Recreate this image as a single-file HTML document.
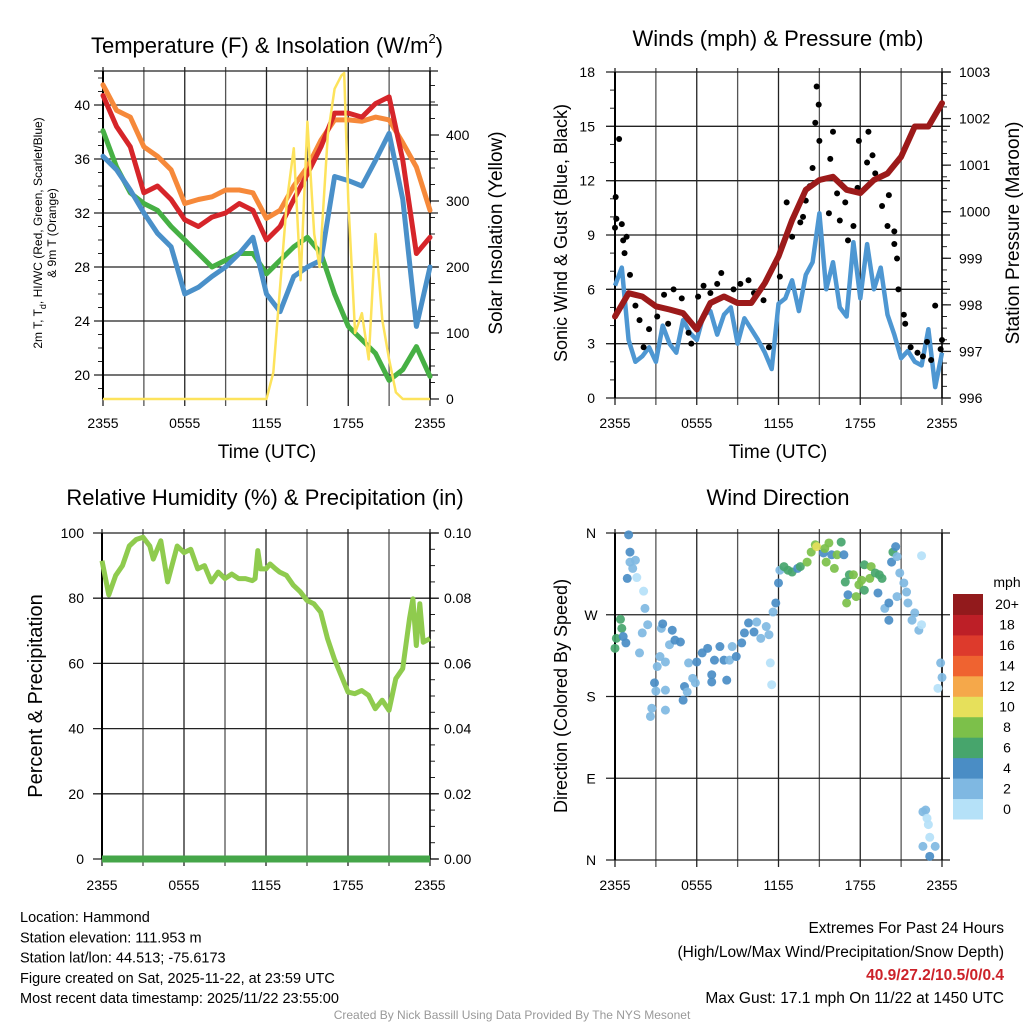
<!DOCTYPE html>
<html><head><meta charset="utf-8">
<style>
html,body{margin:0;padding:0;background:#fff;}
svg{display:block;font-family:"Liberation Sans",sans-serif;}
</style></head>
<body>
<svg id="fig" width="1024" height="1024" viewBox="0 0 1024 1024"></svg>
<script>
// ---------- DATA ----------
const timeTickLabels = ["2355","0555","1155","1755","2355"];
const tempHours = [0,1,2,3,4,5,6,7,8,9,10,11,12,13,14,15,16,17,18,19,20,21,22,23,24];
const temp9m = [41.5,39.6,39.1,36.9,36.2,35.2,32.7,33,33.2,33.7,33.7,33.5,31.6,32.2,34,35.4,37.4,38.9,38.9,38.8,39.1,38.9,37.2,35.4,32.2];
const temp2m = [40.7,38.4,36.9,33.5,34,33,31.5,31,31.7,32,32.7,32.2,30,31,33,34.9,36.9,39.4,39.4,39.1,40.1,40.6,35.9,29,30.2];
const dewpt = [38.1,35.4,33.5,32.7,32.2,31,30,29,28,28.5,29,29,27.5,28.5,29.5,30.2,29,26,23.6,22.6,21.6,19.6,20.4,22.1,19.9];
const windChill = [36.2,35.2,33.7,32,30.5,29.5,26,26.5,27.3,28,29,30.2,26,24.7,27.3,28,28.5,34.7,34.4,34,35.9,37.9,33,23.6,28];
const solarHours = [0,11.5,12,12.5,13,13.5,14,14.5,15,15.5,15.9,16.5,17,17.5,17.7,18,18.5,19,19.5,20,20.5,21,21.5,22,24];
const solar = [0,0,0,40,170,300,380,180,420,250,200,400,470,490,494,300,100,130,60,250,120,60,10,0,0];
const tempTicks = [20,24,28,32,36,40];
const solarTicks = [0,100,200,300,400];

const windHours = [0,0.5,1,1.5,2,2.5,3,3.5,4,4.5,5,5.5,6,6.5,7,7.5,8,8.5,9,9.5,10,10.5,11,11.5,12,12.5,13,13.5,14,14.5,15,15.5,16,16.5,17,17.5,18,18.5,19,19.5,20,20.5,21,21.5,22,22.5,23,23.5,24];
const windSpeed = [6.2,7.2,3.2,2.0,2.3,2.8,2.0,4.0,3.0,2.5,4.3,3.6,3.2,4.6,4.8,3.5,4.6,5.0,3.0,4.4,3.8,3.2,2.5,1.6,5.2,5.5,6.5,4.8,6.8,7.5,10.2,6.0,7.5,5.0,4.5,8.6,5.5,8.5,6.0,7.2,4.6,3.5,2.2,2.6,2.0,1.8,3.8,0.6,2.5];
const gustHours = [0,0.05,0.3,0.1,0.5,0.6,0.85,0.7,1.1,1.5,1.8,2.1,2.5,3.1,3.6,3.9,4.3,4.9,5.4,5.6,6.1,6.5,7.0,7.5,7.8,8.7,9.2,9.8,10.2,10.9,11.3,11.8,12.1,12.6,13.0,13.6,13.8,14.0,14.3,14.5,14.7,14.8,14.95,15.0,15.7,16.0,15.8,16.3,16.5,16.9,17.1,17.5,17.8,17.9,18.5,18.6,18.9,19.1,19.6,20.0,20.1,20.5,20.5,20.7,20.8,21.2,21.3,21.7,22.2,22.6,22.9,23.2,23.5,23.9,24.0];
const gustValues = [9.4,11.1,14.3,9.9,9.6,8.7,8.9,8.0,6.8,5.1,4.3,2.8,3.8,4.5,5.7,4.1,6.0,5.5,3.6,3.0,5.6,6.2,5.8,6.3,6.9,6.0,6.3,6.5,5.8,5.4,2.8,7.5,6.7,10.8,8.9,9.7,10.0,10.9,11.7,12.7,15.2,17.2,16.2,14.2,10.2,14.7,13.2,11.3,9.8,10.8,8.7,9.5,11.6,14.2,13.0,14.7,13.4,12.4,10.6,9.5,11.2,8.5,9.2,7.7,6.0,4.6,4.1,2.8,2.5,2.3,3.1,2.1,5.1,2.7,3.2];
const presHours = tempHours;
const pressure = [997.75,998.25,998.18,997.97,997.9,997.82,997.47,998.04,998.18,998.04,998.04,998.47,999.04,999.82,1000.47,1000.68,1000.75,1000.47,1000.4,1000.68,1000.82,1001.18,1001.83,1001.83,1002.33];
const windTicks = [0,3,6,9,12,15,18];
const presTicks = [996,997,998,999,1000,1001,1002,1003];

const rhHours = [0,0.5,1,1.5,2,2.5,3,3.5,3.75,4.3,4.8,5.5,6,6.5,7,7.5,8,8.5,9,9.5,10,10.5,11,11.2,11.4,11.6,12,12.3,12.7,13,13.5,14,14.5,15,15.5,16,16.5,17,17.5,18,18.5,19,19.5,20,20.5,21,21.5,22,22.5,22.75,23,23.25,23.5,24];
const rh = [91.5,81,87,90,96,98,98.7,96,92,97.6,85,96,94,95,89,90,85,88,86,87.4,86,86,85.4,86,94.6,89,89,90.5,89,88,87,84,82,79.3,78.3,75.7,67.6,61.4,56.3,51.2,50.7,51.7,50.2,46.1,48.7,45.6,55.3,58.4,73.7,79.8,65.5,78.3,66.5,67.6];
const precip = [0,0];
const rhTicks = [0,20,40,60,80,100];
const precipTickLabels = ["0.00","0.02","0.04","0.06","0.08","0.10"];

const dirHours = [0,0.1,0.4,0.5,0.6,0.8,0.9,1.0,1.1,1.1,1.3,1.5,1.6,1.8,2.0,2.1,2.2,2.4,2.6,2.7,2.9,3.0,3.1,3.3,3.4,3.5,3.7,3.7,3.7,4.0,4.2,4.4,4.8,5.0,5.1,5.3,5.4,5.7,5.9,6.0,6.4,6.8,7.1,7.1,7.3,7.7,8.0,8.2,8.4,8.6,8.9,9.3,9.5,9.8,10.2,10.4,10.7,11.1,11.3,11.4,11.5,11.6,11.8,12.0,12.1,12.4,12.7,13.0,13.4,13.6,14.1,14.4,14.7,14.8,15.3,15.4,15.7,15.5,15.9,16.1,16.3,16.6,16.8,16.9,17.0,17.1,17.2,17.5,17.7,17.9,18.1,18.3,18.3,18.7,18.8,19.1,19.3,19.4,19.6,19.8,20.1,20.1,20.3,20.4,20.6,20.7,20.9,20.7,21.2,21.4,21.5,21.8,22.0,22.3,22.5,22.5,22.6,22.8,22.9,23.0,23.1,22.6,23.1,23.5,23.7,23.9,24.0];
const dirDeg = [233,244,265,255,246,239,310,358,339,328,321,330,311,228,250,296,277,259,158,167,195,186,213,224,255,260,218,187,165,237,253,242,240,176,191,185,217,200,195,218,228,233,204,196,220,235,220,198,220,235,224,239,250,261,251,262,244,257,248,217,193,273,283,305,319,323,319,317,321,323,328,339,347,345,338,343,349,328,336,321,336,350,336,306,283,292,314,314,290,303,308,297,325,310,323,316,294,314,310,277,283,264,328,339,345,334,316,290,305,295,283,264,272,253,259,335,53,55,46,39,25,15,4,15,189,217,201];
const dirSpeed = [7,7,7,7,5,5,5,5,5,3,3,3,1,3,3,1,3,3,3,3,5,3,3,3,3,5,3,3,3,3,5,5,5,5,5,3,3,3,3,5,5,5,5,5,5,5,5,5,3,3,5,5,5,5,5,3,3,3,3,1,1,3,5,5,3,7,7,7,5,7,9,9,9,10.5,5,9,9,9,5,9,9,7,5,7,9,5,7,9,9,9,9,7,7,9,9,7,5,7,7,3,5,5,5,7,5,3,3,3,3,3,3,3,3,3,1,1,3,3,1,1,1,3,5,3,1,3,3];
const dirLabels = ["N","W","S","E","N"];
const speedLevels = ["0","2","4","6","8","10","12","14","16","18","20+"];
const speedColors = ["#b5e1f8","#7fb8e2","#4a8dc5","#47a56c","#7cc04a","#e6e05b","#f5a84a","#ef6330","#dd3a2c","#bd1f27","#921a1c"];

// ---------- HELPERS ----------
const NS="http://www.w3.org/2000/svg";
const svg=document.getElementById('fig');
function mk(tag,attrs,parent){const e=document.createElementNS(NS,tag);for(const k in attrs)e.setAttribute(k,attrs[k]);(parent||svg).appendChild(e);return e;}
function txt(s,x,y,size,anchor,parent,extra){const t=mk('text',Object.assign({x:x,y:y,'font-size':size,'text-anchor':anchor||'middle',fill:'#000'},extra||{}),parent);t.textContent=s;return t;}
function tsp(t,s,attrs){const e=mk('tspan',attrs||{},t);e.textContent=s;return e;}
function lin(d0,d1,r0,r1){return v=>r0+(v-d0)/(d1-d0)*(r1-r0);}
function pathFrom(xsArr,ysArr,xf,yf){return xsArr.map((h,i)=>(i?'L':'M')+xf(h).toFixed(1)+','+yf(ysArr[i]).toFixed(1)).join('');}

function frame(g,L,R,T,B,hGrid,vGridN,leftTicks,rightTicks,minorRight){
  for(let i=0;i<=vGridN;i++){const x=L+(R-L)*i/vGridN;mk('line',{x1:x,y1:T-4,x2:x,y2:B+7,stroke:i%2?'#555':'#222','stroke-width':1.3},g);}
  hGrid.forEach(y=>mk('line',{x1:L-9,y1:y,x2:R+8,y2:y,stroke:'#222','stroke-width':1.3},g));
  (minorRight||[]).forEach(y=>mk('line',{x1:R,y1:y,x2:R+5,y2:y,stroke:'#222','stroke-width':1},g));
  (rightTicks||[]).forEach(y=>mk('line',{x1:R,y1:y,x2:R+9,y2:y,stroke:'#222','stroke-width':1.3},g));
  (leftTicks||[]).forEach(y=>mk('line',{x1:L-5,y1:y,x2:L,y2:y,stroke:'#222','stroke-width':1},g));
  mk('line',{x1:L,y1:T,x2:L,y2:B,stroke:'#000','stroke-width':2},g);
  mk('line',{x1:R,y1:T,x2:R,y2:B,stroke:'#000','stroke-width':1.5},g);
}

// ---------- PANEL 1: Temperature ----------
(function(){
  const g=mk('g',{});
  
  
  const L=103,R=430,T=71,B=399;
  const x=lin(0,24,L,R), y=lin(20,40,375,105), ys=lin(0,400,399,135);
  const hg=tempTicks.map(y);
  const minorL=[];for(let v=19;v<=42;v++)minorL.push(y(v));
  const minorR=[];for(let v=25;v<=475;v+=25)minorR.push(ys(v));
  frame(g,L,R,T,B,hg.concat([T]),8,minorL,solarTicks.map(ys),minorR);
  const series=[[temp9m,'#f6893a','nine-meter-temp-line'],[dewpt,'#46b044','dewpoint-line'],[windChill,'#4a90c9','wind-chill-line'],[temp2m,'#d6252a','two-meter-temp-line']];
  series.forEach(s=>{const p=mk('path',{d:pathFrom(tempHours,s[0],x,y),fill:'none',stroke:s[1],'stroke-width':5,'stroke-linejoin':'round','stroke-linecap':'round'},g);
    
    });
  const sp=mk('path',{d:pathFrom(solarHours,solar,x,ys),fill:'none',stroke:'#fde35c','stroke-width':2.5,'stroke-linejoin':'round'},g);
  
  
  tempTicks.forEach(v=>txt(String(v),L-13,y(v)+5,14,'end',g));
  solarTicks.forEach(v=>txt(String(v),R+16,ys(v)+5,14,'start',g));
  timeTickLabels.forEach((s,i)=>txt(s,L+(R-L)*i/4,428,14,'middle',g));
  txt('Time (UTC)',267,458,19,'middle',g);
  const t=txt('Temperature (F) & Insolation (W/m',267,53,22,'middle',g);
  tsp(t,'2',{'font-size':13,dy:-10});
  tsp(t,')',{dy:10});
  const yl=mk('g',{transform:'translate(42,233) rotate(-90)'},g);
  const l1=txt('2m T, T',0,0,12,'middle',yl);
  tsp(l1,'d',{'font-size':9,dy:4});
  tsp(l1,', HI/WC (Red, Green, Scarlet/Blue)',{dy:-4});
  txt('& 9m T (Orange)',0,14,12,'middle',yl);
  const yr=mk('g',{transform:'translate(502,233) rotate(-90)'},g);
  txt('Solar Insolation (Yellow)',0,0,19,'middle',yr);
})();

// ---------- PANEL 2: Winds ----------
(function(){
  const g=mk('g',{});
  
  
  const L=615,R=942,T=72,B=398;
  const x=lin(0,24,L,R), y=lin(0,18,B,T), yp=lin(996,1003,B,T);
  const minorL=[];for(let v=1;v<18;v++)minorL.push(y(v));
  const minorR=[];for(let v=996.25;v<1003;v+=0.25)minorR.push(yp(v));
  frame(g,L,R,T,B,windTicks.map(y),8,minorL,presTicks.map(yp),minorR);
  const wp=mk('path',{d:pathFrom(windHours,windSpeed,x,y),fill:'none',stroke:'#4e97d2','stroke-width':4.5,'stroke-linejoin':'round'},g);
  
  
  gustHours.forEach((h,i)=>{const c=mk('circle',{cx:x(h),cy:y(gustValues[i]),r:3,fill:'#000'},g);
    
    });
  const pp=mk('path',{d:pathFrom(presHours,pressure,x,yp),fill:'none',stroke:'#9c1a1a','stroke-width':6,'stroke-linejoin':'round','stroke-linecap':'round'},g);
  
  
  windTicks.forEach(v=>txt(String(v),L-20,y(v)+5,14,'end',g));
  presTicks.forEach(v=>txt(String(v),R+17,yp(v)+5,14,'start',g));
  timeTickLabels.forEach((s,i)=>txt(s,L+(R-L)*i/4,428,14,'middle',g));
  txt('Time (UTC)',778,458,19,'middle',g);
  txt('Winds (mph) & Pressure (mb)',778,46,22,'middle',g);
  const yl=mk('g',{transform:'translate(567,233) rotate(-90)'},g);txt('Sonic Wind & Gust (Blue, Black)',0,0,18,'middle',yl);
  const yr=mk('g',{transform:'translate(1019,233) rotate(-90)'},g);txt('Station Pressure (Maroon)',0,0,19,'middle',yr);
})();

// ---------- PANEL 3: RH ----------
(function(){
  const g=mk('g',{});
  
  
  const L=102,R=430,T=533,B=859;
  const x=lin(0,24,L,R), y=lin(0,100,B,T);
  const minorR=[];for(let v=5;v<100;v+=5)minorR.push(y(v));
  frame(g,L,R,T,B,rhTicks.map(y),8,[],rhTicks.map(y),minorR);
  const rp=mk('path',{d:pathFrom(rhHours,rh,x,y),fill:'none',stroke:'#8fcb4e','stroke-width':5,'stroke-linejoin':'round'},g);
  
  
  const pr=mk('path',{d:pathFrom([0,24],precip,x,v=>y(v*1000)),fill:'none',stroke:'#45a649','stroke-width':7},g);
  
  
  rhTicks.forEach(v=>txt(String(v),L-18,y(v)+5,14,'end',g));
  precipTickLabels.forEach((s,i)=>txt(s,R+14,y(rhTicks[i])+5,14,'start',g));
  timeTickLabels.forEach((s,i)=>txt(s,L+(R-L)*i/4,890,14,'middle',g));
  txt('Relative Humidity (%) & Precipitation (in)',265,505,22,'middle',g);
  const yl=mk('g',{transform:'translate(42,696) rotate(-90)'},g);txt('Percent & Precipitation',0,0,20,'middle',yl);
})();

// ---------- PANEL 4: Wind Direction ----------
(function(){
  const g=mk('g',{});
  
  
  const L=615,R=942,T=533,B=860;
  const x=lin(0,24,L,R), y=lin(0,360,B,T);
  frame(g,L,R,T,B,[0,90,180,270,360].map(y),8,[],[],[]);
  function colorFor(s){let i=Math.min(10,Math.floor(s/2+0.0001));return speedColors[i];}
  dirHours.forEach((h,i)=>{const c=mk('circle',{cx:x(h),cy:y(dirDeg[i]),r:4.5,fill:colorFor(dirSpeed[i]),'fill-opacity':0.92},g);
    
    });
  dirLabels.forEach((s,i)=>txt(s,591,y(360-90*i)+5,14,'middle',g));
  timeTickLabels.forEach((s,i)=>txt(s,L+(R-L)*i/4,890,14,'middle',g));
  txt('Wind Direction',778,505,22,'middle',g);
  const yl=mk('g',{transform:'translate(567,696) rotate(-90)'},g);txt('Direction (Colored By Speed)',0,0,18,'middle',yl);
  const cb=mk('g',{},g);
  
  
  const cbTop=594,cbBot=819,h=(cbBot-cbTop)/speedLevels.length;
  speedLevels.forEach((s,i)=>{const yy=cbBot-(i+1)*h;
    const r=mk('rect',{x:953,y:yy,width:30,height:h+0.5,fill:speedColors[i]},cb);
    
    
    txt(s,1007,yy+h/2+5,14,'middle',cb);});
  txt('mph',1007,587,14,'middle',cb);
})();

// ---------- FOOTER ----------
(function(){
  const g=mk('g',{});
  
  
  const lines=["Location: Hammond","Station elevation: 111.953 m","Station lat/lon: 44.513; -75.6173","Figure created on Sat, 2025-11-22, at 23:59 UTC","Most recent data timestamp: 2025/11/22 23:55:00"];
  lines.forEach((s,i)=>txt(s,20,922+i*20.3,14.5,'start',g));
  const r=mk('g',{});
  
  
  txt('Extremes For Past 24 Hours',1004,933,15.5,'end',r);
  txt('(High/Low/Max Wind/Precipitation/Snow Depth)',1004,957,15.5,'end',r);
  txt('40.9/27.2/10.5/0/0.4',1004,980,15.5,'end',r,{fill:'#cc2229','font-weight':'bold'});
  txt('Max Gust: 17.1 mph On 11/22 at 1450 UTC',1004,1003,15.5,'end',r);
  txt('Created By Nick Bassill Using Data Provided By The NYS Mesonet',512,1019,12,'middle',svg,{fill:'#999'});
})();
</script>
</body></html>
